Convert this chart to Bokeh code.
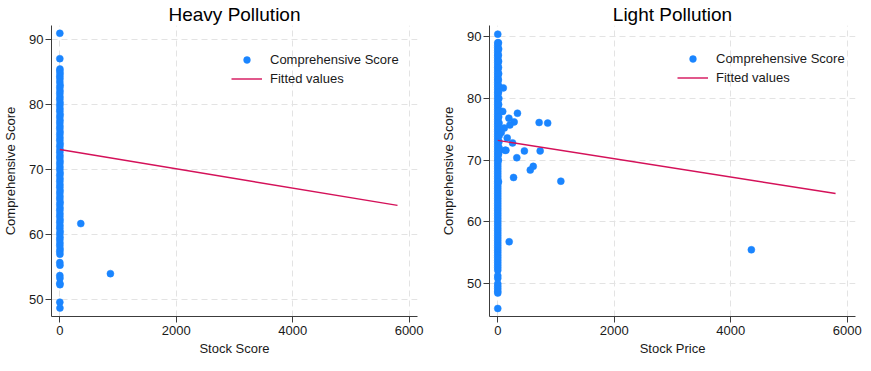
from bokeh.plotting import figure
from bokeh.layouts import row
from bokeh.models import Range1d, Legend, LegendItem, FixedTicker
from bokeh.embed import file_html
from bokeh.resources import INLINE

# ---------------- data ----------------
heavy_title = "Heavy Pollution"
light_title = "Light Pollution"
y_label = "Comprehensive Score"
heavy_xlabel = "Stock Score"
light_xlabel = "Stock Price"
x_ticks = [0, 2000, 4000, 6000]
y_ticks = [50, 60, 70, 80, 90]

# Heavy pollution: dense column near x = 0
heavy_col_x = [0, 0, 2, 0, 4, 0, 2, 0, 5, 0, 3, 0, 2, 0, 4, 0, 2, 0, 5, 0,
               3, 0, 2, 0, 4, 0, 2, 0, 5, 0, 3, 0, 2, 0, 4, 0, 2, 0, 5, 0,
               3, 0, 2, 0, 4, 0, 2, 0, 5, 0, 3, 0, 2, 0, 4, 0, 2, 0, 5, 0,
               3, 0, 2, 0, 4, 0, 2, 0, 3, 0, 2, 0, 3, 0, 2]
heavy_col_y = [91.0, 87.1, 85.5, 85.2, 84.8, 84.4, 84.0, 83.5, 83.0, 82.6,
               82.1, 81.7, 81.2, 80.8, 80.3, 79.9, 79.4, 79.0, 78.5, 78.1,
               77.6, 77.2, 76.7, 76.3, 75.8, 75.4, 74.9, 74.5, 74.0, 73.6,
               73.1, 72.7, 72.2, 71.8, 71.3, 70.9, 70.4, 70.0, 69.5, 69.1,
               68.6, 68.2, 67.7, 67.3, 66.8, 66.4, 65.9, 65.5, 65.0, 64.6,
               64.1, 63.7, 63.2, 62.8, 62.3, 61.9, 61.4, 61.0, 60.5, 60.1,
               59.6, 59.2, 58.7, 58.3, 57.8, 57.4, 57.0, 55.7, 55.3, 53.7,
               53.3, 52.5, 52.3, 49.6, 48.7]
heavy_out_x = [360, 869]
heavy_out_y = [61.7, 54.0]
heavy_fit_x = [0, 5800]
heavy_fit_y = [73.1, 64.5]

# Light pollution: dense column near x = 0
light_col_x = [0, 0, 0, 0, 0, 0, 0, 0, 0, 0, 0, 0, 0, 0, 0, 0, 0, 0, 0, 0,
               0, 0, 0, 0, 0, 0, 0, 0, 0, 0, 0, 0, 0, 0, 0, 0, 0, 0, 0, 0,
               0, 0, 0, 0, 0, 0, 0, 0, 0, 0, 0, 0, 0, 0, 0, 0, 0, 0, 0, 0,
               0, 0, 0, 0, 0, 0, 0, 0, 0, 0, 0, 0, 0, 0, 0, 0, 0, 0, 0, 0,
               0, 0, 0, 0, 0, 0, 0, 0, 0, 0, 0, 0, 0, 0, 0, 0, 0, 0, 0, 0,
               0, 0]
light_col_y = [90.4, 89.0, 88.6, 88.2, 87.8, 87.4, 87.0, 86.6, 86.2, 85.8,
               85.4, 85.0, 84.6, 84.2, 83.8, 83.4, 83.0, 82.6, 82.2, 81.8,
               81.4, 81.0, 80.6, 80.2, 79.8, 79.4, 79.0, 78.6, 78.2, 77.8,
               77.4, 77.0, 76.6, 76.2, 75.8, 75.4, 75.0, 74.6, 74.2, 73.8,
               73.4, 73.0, 72.6, 72.2, 71.8, 71.4, 71.0, 70.6, 70.2, 69.8,
               69.4, 69.0, 68.6, 68.2, 67.8, 67.4, 67.0, 66.6, 66.2, 65.8,
               65.4, 65.0, 64.6, 64.2, 63.8, 63.4, 63.0, 62.6, 62.2, 61.8,
               61.4, 61.0, 60.6, 60.2, 59.8, 59.4, 59.0, 58.6, 58.2, 57.8,
               57.4, 57.0, 56.6, 56.2, 55.8, 55.4, 55.0, 54.6, 54.2, 53.8,
               53.4, 53.0, 52.6, 52.2, 51.3, 50.9, 50.0, 49.6, 49.2, 48.8,
               48.5, 46.0]
light_col2_x = [12, 15, 10, 14, 12, 15, 10, 14, 12, 18, 15, 20, 16, 22, 18,
                25, 20, 22, 18, 14, 10, 12]
light_col2_y = [89.0, 88.0, 87.0, 86.0, 85.0, 84.0, 83.0, 82.0, 81.0, 80.0,
                79.0, 78.0, 77.0, 76.0, 75.0, 74.0, 73.0, 72.0, 71.5, 71.0,
                70.0, 66.5]
light_out_x = [95, 338, 191, 281, 208, 710, 857, 85, 112, 162, 254, 124,
               457, 728, 327, 609, 558, 271, 1083, 196, 4354, 60, 140]
light_out_y = [81.7, 77.6, 76.8, 76.2, 75.7, 76.1, 76.0, 77.9, 75.2, 73.6,
               72.8, 71.6, 71.5, 71.5, 70.4, 69.0, 68.4, 67.2, 66.6, 56.8,
               55.5, 74.5, 71.6]
light_fit_x = [0, 5800]
light_fit_y = [73.2, 64.6]

# ---------------- styling ----------------
FONT = "Liberation Sans"
DOT = "#1a85ff"
FIT = "#d41159"
GRID = "#e3e3e3"
AXIS = "#3c3c3c"
TXT = "#1a1a1a"
FIG_H = 363


def make_panel(title, xlabel, col_x, col_y, extra_x, extra_y, out_x, out_y,
               fit_x, fit_y, xr, yr, width, borders, legend_xy, ylabel_standoff):
    bl, br, bt, bb = borders
    p = figure(width=width, height=FIG_H, output_backend="svg",
               toolbar_location=None, x_range=Range1d(*xr), y_range=Range1d(*yr),
               min_border_left=bl, min_border_right=br, min_border_top=bt,
               min_border_bottom=bb, title=title)
    p.outline_line_color = None
    p.background_fill_color = "white"
    p.border_fill_color = "white"
    p.title.align = "center"
    p.title.text_font = FONT
    p.title.text_font_size = "19px"
    p.title.text_font_style = "normal"
    p.title.text_color = "#000000"
    p.title.standoff = 1
    p.title.offset = 0

    for ax in (p.xaxis[0], p.yaxis[0]):
        ax.axis_line_color = AXIS
        ax.major_tick_line_color = AXIS
        ax.minor_tick_line_color = None
        ax.major_tick_out = 6
        ax.major_tick_in = 0
        ax.major_label_text_font = FONT
        ax.major_label_text_font_size = "13px"
        ax.major_label_text_color = TXT
        ax.axis_label_text_font = FONT
        ax.axis_label_text_font_size = "13px"
        ax.axis_label_text_font_style = "normal"
        ax.axis_label_text_color = TXT
    p.xaxis[0].ticker = FixedTicker(ticks=x_ticks)
    p.yaxis[0].ticker = FixedTicker(ticks=y_ticks)
    p.xaxis[0].axis_label = xlabel
    p.yaxis[0].axis_label = y_label
    p.xaxis[0].major_label_standoff = 3
    p.xaxis[0].axis_label_standoff = 3
    p.yaxis[0].major_label_standoff = 2
    p.yaxis[0].axis_label_standoff = ylabel_standoff

    for g in (p.xgrid[0], p.ygrid[0]):
        g.grid_line_color = GRID
        g.grid_line_dash = "6 4"
        g.grid_line_width = 1

    xs = list(col_x) + list(extra_x) + list(out_x)
    ys = list(col_y) + list(extra_y) + list(out_y)
    r_dots = p.scatter(xs, ys, size=7, fill_color=DOT, line_color=DOT,
                       line_width=0.5)
    r_fit = p.line(fit_x, fit_y, line_color=FIT, line_width=1.4)

    legend = Legend(items=[LegendItem(label="Comprehensive Score", renderers=[r_dots]),
                           LegendItem(label="Fitted values", renderers=[r_fit])],
                    location=legend_xy, padding=0, margin=0, spacing=2,
                    glyph_width=31, glyph_height=17, label_height=17,
                    label_standoff=8, border_line_color=None,
                    background_fill_alpha=0,
                    label_text_font=FONT, label_text_font_size="13px",
                    label_text_color=TXT)
    p.add_layout(legend, "center")
    return p


p1 = make_panel(heavy_title, heavy_xlabel, heavy_col_x, heavy_col_y, [], [],
                heavy_out_x, heavy_out_y, heavy_fit_x, heavy_fit_y,
                (-143, 6144), (47.4, 92.2), 430, (50, 13, 25, 47),
                (180, 229), 8)
p2 = make_panel(light_title, light_xlabel, light_col_x, light_col_y,
                light_col2_x, light_col2_y, light_out_x, light_out_y,
                light_fit_x, light_fit_y,
                (-142, 6142), (44.7, 91.8), 433, (59, 8, 23, 45),
                (188, 230), 8)

layout = row(p1, p2)
open("out.html", "w").write(file_html(layout, INLINE))
